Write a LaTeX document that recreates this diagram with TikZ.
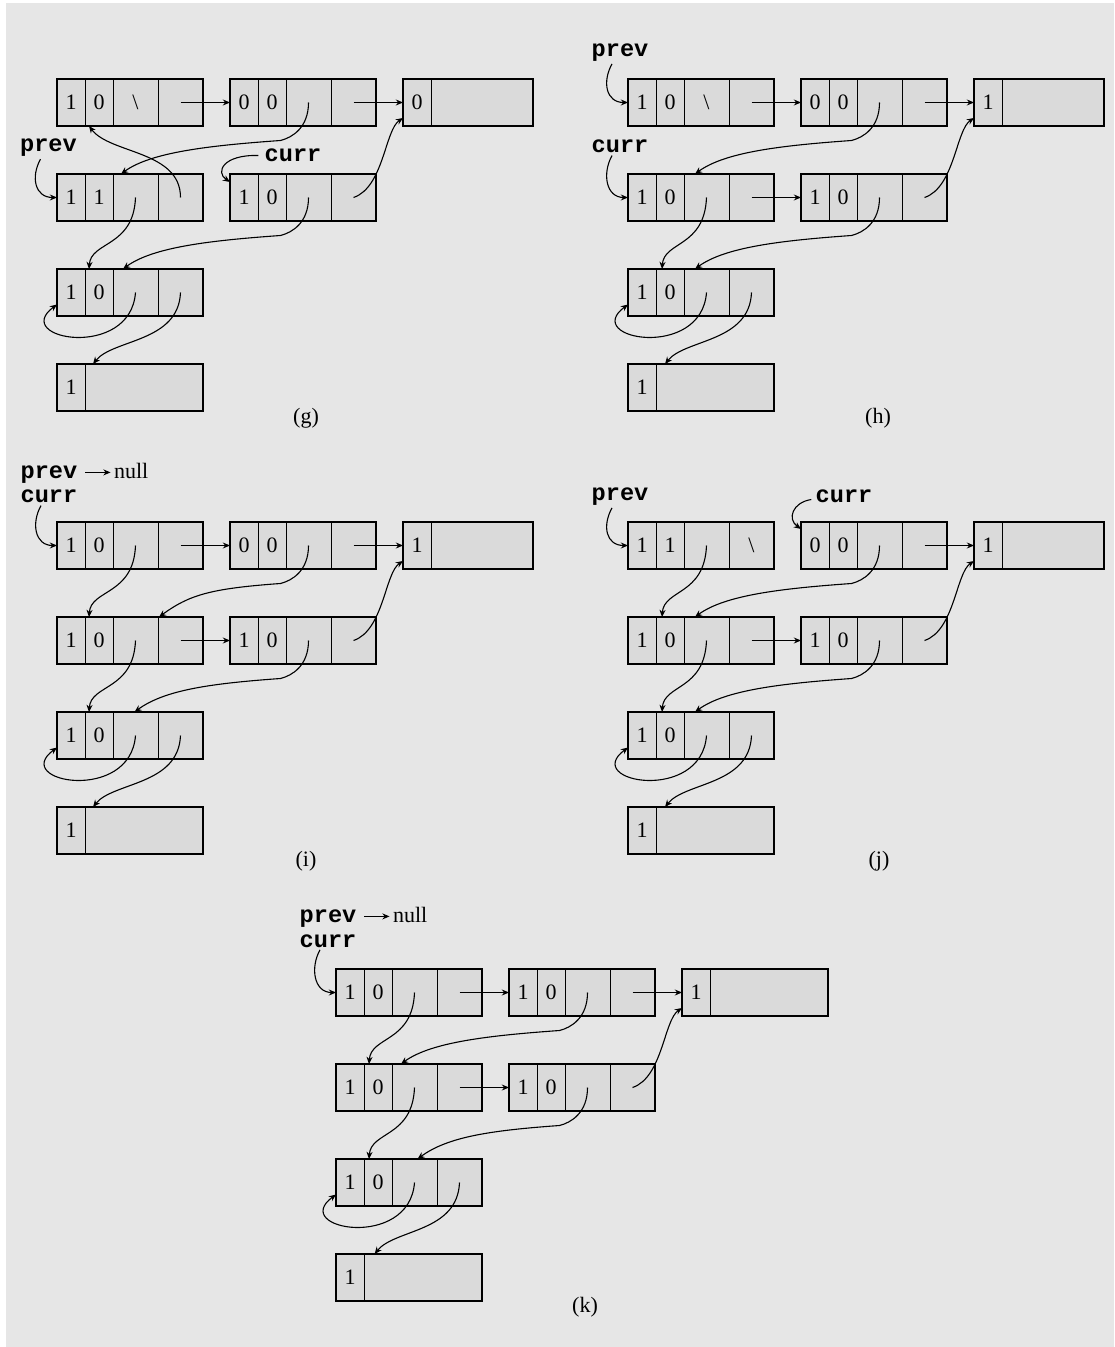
\documentclass[tikz,border=0pt]{standalone}
\usepackage{fontspec}
\setmainfont{Liberation Serif}
\newfontfamily\varfont{Liberation Mono}
\usetikzlibrary{positioning,arrows.meta}

\definecolor{bggray}{RGB}{230,230,230}
\definecolor{cellgray}{RGB}{218,218,218}

% list node with four cells
\newcommand{\listnode}[7]{%
  \node[listcell, minimum width=14pt, anchor=north west] (#1-1) at (#2,#3) {#4};
  \node[listcell, minimum width=14pt, right=0pt of #1-1] (#1-2) {#5};
  \node[listcell, minimum width=22.5pt, right=0pt of #1-2] (#1-3) {#6};
  \node[listcell, minimum width=22.5pt, right=0pt of #1-3] (#1-4) {#7};
  \draw[boxframe] (#1-1.north west) rectangle (#1-4.south east);
}
% leaf with one value
\newcommand{\leafnode}[5]{%
  \node[listcell, minimum width=14pt, anchor=north west] (#1-1) at (#2,#3) {#4};
  \node[listcell, minimum width=#5, right=0pt of #1-1] (#1-2) {};
  \draw[boxframe] (#1-1.north west) rectangle (#1-2.south east);
}
% pointer shapes
\newcommand{\longlink}[2]{\draw[pointer] (#1) .. controls +(0,25) and +(12,-3) .. ++(-28,38)
  .. controls +(-70,5) and +(30,-22) .. (#2);}
\newcommand{\shortlink}[2]{\draw[pointer] (#1) .. controls +(-2,50) and +(2,-28) .. (#2);}
\newcommand{\leaflink}[2]{\draw[pointer] (#1) .. controls +(-2,50) and +(20,-25) .. (#2);}
\newcommand{\looplink}[2]{\draw[pointer] (#1) .. controls +(-5,68) and +(-47,35) .. (#2);}
\newcommand{\uplink}[2]{\draw[pointer] (#1) .. controls +(30,-10) and +(-18,12) .. (#2);}
\newcommand{\varlink}[2]{\draw[pointer] ([xshift=-4pt]#1.south) .. controls +(-10,18) and +(-22,0) .. (#2);}

\begin{document}
\begin{tikzpicture}[x=0.5pt, y=-0.5pt, >={Stealth[length=3.6pt,width=3pt]},
    font=\fontsize{11}{13}\selectfont,
    listcell/.style={draw, fill=cellgray, line width=0.4pt, minimum height=23.5pt,
      inner sep=0pt, outer sep=0pt},
    boxframe/.style={line width=0.8pt},
    pointer/.style={->, line width=0.55pt},
    varlabel/.style={font=\varfont\bfseries\fontsize{11.8}{13}\selectfont, inner sep=1pt},
    nulllabel/.style={inner sep=1pt}]

  \useasboundingbox (0,0) rectangle (1114,1347);
  \fill[bggray] (6,3) rectangle (1114,1347);

  % (g)
  \listnode{gA}{57}{79}{1}{0}{\textbackslash}{}
  \listnode{gB}{230}{79}{0}{0}{}{}
  \leafnode{gC}{403}{79}{0}{51pt}
  \listnode{gD}{57}{174}{1}{1}{}{}
  \listnode{gE}{230}{174}{1}{0}{}{}
  \listnode{gF}{57}{269}{1}{0}{}{}
  \leafnode{gG}{57}{364}{1}{59pt}
  \node[varlabel] (gprev) at (48.5,148) {prev};
  \node[varlabel] (gcurr) at (293,155.5) {curr};
  \node (glabel) at (306,418) {(g)};
  \draw[pointer] (gA-4.center) -- (gB-1.west);
  \draw[pointer] (gB-4.center) -- (gC-1.west);
  \longlink{gB-3.center}{[xshift=4pt]gD-3.north west}
  \draw[pointer] (gD-4.center) .. controls +(0,-47) and +(21,28) .. ([xshift=2pt]gA-2.south west);
  \varlink{gprev}{gD-1.west}
  \draw[pointer] ([xshift=-2pt]gcurr.west) .. controls +(-35,-1) and +(-15,-10) .. ([yshift=-4pt]gE-1.north west);
  \uplink{gE-4.center}{[yshift=4pt]gC-1.south west}
  \shortlink{gD-3.center}{[xshift=2pt]gF-2.north west}
  \longlink{gE-3.center}{[xshift=5pt]gF-3.north west}
  \looplink{gF-3.center}{[yshift=-6pt]gF-1.west}
  \leaflink{gF-4.center}{[xshift=4pt]gG-2.north west}

  % (h)
  \begin{scope}[shift={(571,0)}]
    \listnode{hA}{57}{79}{1}{0}{\textbackslash}{}
    \listnode{hB}{230}{79}{0}{0}{}{}
    \leafnode{hC}{403}{79}{1}{51pt}
    \listnode{hD}{57}{174}{1}{0}{}{}
    \listnode{hE}{230}{174}{1}{0}{}{}
    \listnode{hF}{57}{269}{1}{0}{}{}
    \leafnode{hG}{57}{364}{1}{59pt}
    \node[varlabel] (hprev) at (49,52.7) {prev};
    \node[varlabel] (hcurr) at (49,146.7) {curr};
    \node (hlabel) at (307,418) {(h)};
    \varlink{hprev}{hA-1.west}
    \varlink{hcurr}{hD-1.west}
    \draw[pointer] (hA-4.center) -- (hB-1.west);
    \draw[pointer] (hB-4.center) -- (hC-1.west);
    \draw[pointer] (hD-4.center) -- (hE-1.west);
    \longlink{hB-3.center}{[xshift=5.5pt]hD-3.north west}
    \uplink{hE-4.center}{[yshift=4pt]hC-1.south west}
    \shortlink{hD-3.center}{[xshift=3pt]hF-2.north west}
    \longlink{hE-3.center}{[xshift=5.5pt]hF-3.north west}
    \looplink{hF-3.center}{[yshift=-6pt]hF-1.west}
    \leaflink{hF-4.center}{[xshift=4.5pt]hG-2.north west}
  \end{scope}

  % (i)
  \begin{scope}[shift={(0,443)}]
    \listnode{iA}{57}{79}{1}{0}{}{}
    \listnode{iB}{230}{79}{0}{0}{}{}
    \leafnode{iC}{403}{79}{1}{51pt}
    \listnode{iD}{57}{174}{1}{0}{}{}
    \listnode{iE}{230}{174}{1}{0}{}{}
    \listnode{iF}{57}{269}{1}{0}{}{}
    \leafnode{iG}{57}{364}{1}{59pt}
    \node[varlabel] (iprev) at (49,31.5) {prev};
    \node[nulllabel, anchor=base west] (inull) at ([xshift=16pt]iprev.base east) {null};
    \node[varlabel] (icurr) at (49,53.7) {curr};
    \node (ilabel) at (306,418) {(i)};
    \draw[pointer] ([xshift=2.8pt,yshift=3pt]iprev.base east) -- ([xshift=-0.6pt,yshift=3pt]inull.base west);
    \varlink{icurr}{iA-1.west}
    \draw[pointer] (iA-4.center) -- (iB-1.west);
    \draw[pointer] (iB-4.center) -- (iC-1.west);
    \draw[pointer] (iD-4.center) -- (iE-1.west);
    \shortlink{iA-3.center}{[xshift=2pt]iD-2.north west}
    \longlink{iB-3.center}{[xshift=0.5pt]iD-4.north west}
    \uplink{iE-4.center}{[yshift=4pt]iC-1.south west}
    \shortlink{iD-3.center}{[xshift=2pt]iF-2.north west}
    \longlink{iE-3.center}{[xshift=-0.5pt]iF-3.north}
    \looplink{iF-3.center}{[yshift=-6pt]iF-1.west}
    \leaflink{iF-4.center}{[xshift=4pt]iG-2.north west}
  \end{scope}

  % (j)
  \begin{scope}[shift={(571,443)}]
    \listnode{jA}{57}{79}{1}{1}{}{\textbackslash}
    \listnode{jB}{230}{79}{0}{0}{}{}
    \leafnode{jC}{403}{79}{1}{51pt}
    \listnode{jD}{57}{174}{1}{0}{}{}
    \listnode{jE}{230}{174}{1}{0}{}{}
    \listnode{jF}{57}{269}{1}{0}{}{}
    \leafnode{jG}{57}{364}{1}{59pt}
    \node[varlabel] (jprev) at (49,53.7) {prev};
    \node[varlabel] (jcurr) at (273,53.5) {curr};
    \node (jlabel) at (308,418) {(j)};
    \varlink{jprev}{jA-1.west}
    \draw[pointer] ([xshift=-1pt,yshift=-1.5pt]jcurr.west) .. controls +(-19,3) and +(-14,-10) .. ([yshift=-3.5pt]jB-1.north west);
    \draw[pointer] (jB-4.center) -- (jC-1.west);
    \draw[pointer] (jD-4.center) -- (jE-1.west);
    \shortlink{jA-3.center}{[xshift=3pt]jD-2.north west}
    \longlink{jB-3.center}{[xshift=5.5pt]jD-3.north west}
    \uplink{jE-4.center}{[yshift=4pt]jC-1.south west}
    \shortlink{jD-3.center}{[xshift=3pt]jF-2.north west}
    \longlink{jE-3.center}{[xshift=5.5pt]jF-3.north west}
    \looplink{jF-3.center}{[yshift=-6pt]jF-1.west}
    \leaflink{jF-4.center}{[xshift=4.5pt]jG-2.north west}
  \end{scope}

  % (k)
  \begin{scope}[shift={(279,890)}]
    \listnode{kA}{57}{79}{1}{0}{}{}
    \listnode{kB}{230}{79}{1}{0}{}{}
    \leafnode{kC}{403}{79}{1}{59pt}
    \listnode{kD}{57}{174}{1}{0}{}{}
    \listnode{kE}{230}{174}{1}{0}{}{}
    \listnode{kF}{57}{269}{1}{0}{}{}
    \leafnode{kG}{57}{364}{1}{59pt}
    \node[varlabel] (kprev) at (49,28.5) {prev};
    \node[nulllabel, anchor=base west] (knull) at ([xshift=16pt]kprev.base east) {null};
    \node[varlabel] (kcurr) at (49,51) {curr};
    \node (klabel) at (306,417) {(k)};
    \draw[pointer] ([xshift=2.8pt,yshift=3pt]kprev.base east) -- ([xshift=-0.6pt,yshift=3pt]knull.base west);
    \varlink{kcurr}{kA-1.west}
    \draw[pointer] (kA-4.center) -- (kB-1.west);
    \draw[pointer] (kB-4.center) -- (kC-1.west);
    \draw[pointer] (kD-4.center) -- (kE-1.west);
    \shortlink{kA-3.center}{[xshift=2.5pt]kD-2.north west}
    \longlink{kB-3.center}{[xshift=4.5pt]kD-3.north west}
    \uplink{kE-4.center}{[yshift=4pt]kC-1.south west}
    \shortlink{kD-3.center}{[xshift=2.5pt]kF-2.north west}
    \longlink{kE-3.center}{[xshift=12.75pt]kF-3.north west}
    \looplink{kF-3.center}{[yshift=-6pt]kF-1.west}
    \leaflink{kF-4.center}{[xshift=5.3pt]kG-2.north west}
  \end{scope}

\end{tikzpicture}
\end{document}
